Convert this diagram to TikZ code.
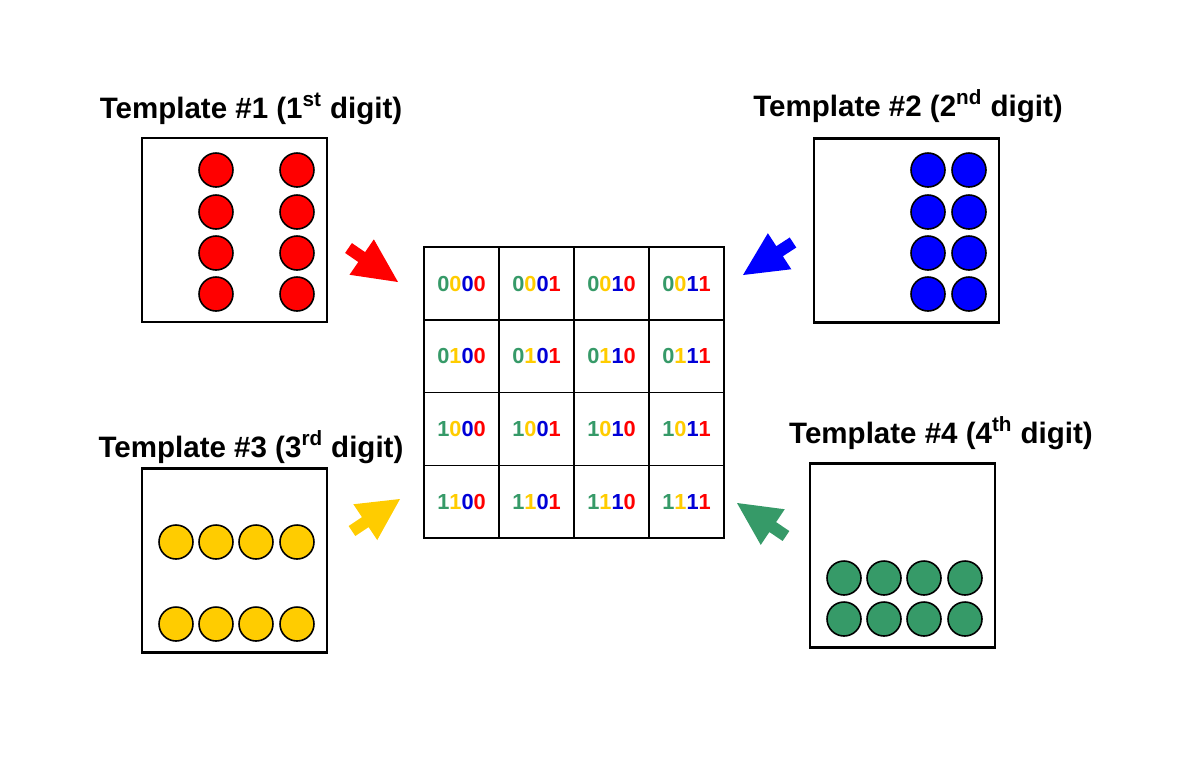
\documentclass[tikz,border=0pt]{standalone}
\usepackage{fontspec}
\setmainfont{Liberation Sans}
\usetikzlibrary{calc}
\definecolor{tred}{RGB}{255,0,0}
\definecolor{tblue}{RGB}{0,0,255}
\definecolor{dblue}{RGB}{0,0,215}
\definecolor{tyellow}{RGB}{255,204,0}
\definecolor{tgreen}{RGB}{54,154,104}
\tikzset{
	template/.style={draw, line width=1.2pt, minimum width=3.7cm, minimum height=3.68cm, inner sep=0pt},
	bead/.style={draw, circle, line width=0.9pt, inner sep=0pt, minimum size=0.68cm, fill=#1},
	tplname/.style={anchor=base, font=\fontsize{16.8}{20}\selectfont\bfseries},
	cell/.style={draw, line width=0.8pt, minimum width=1.5cm, minimum height=1.455cm, inner sep=0pt,
		font=\fontsize{12.4}{14}\selectfont\bfseries}
}
% block arrow: colour, tail, tip
\newcommand{\blockarrow}[3]{
	\coordinate (#2h) at ($(#2)!0.32cm!(#3)$);
	\fill[#1] ($(#2)!0.12cm!90:(#3)$) -- ($(#2h)!0.12cm!90:(#3)$) -- ($(#2h)!0.43cm!90:(#3)$)
		-- (#3) -- ($(#2h)!0.43cm!-90:(#3)$) -- ($(#2h)!0.12cm!-90:(#3)$)
		-- ($(#2)!0.12cm!-90:(#3)$) -- cycle;
}
\begin{document}
\begin{tikzpicture}[x=0.02cm, y=-0.02cm]
		\useasboundingbox (0,0) rectangle (1200,779);
		% templates
		\node[template] (t1) at (234.5,230) {};
		\node[template] (t2) at (906.5,230.5) {};
		\node[template] (t3) at (234.5,560.5) {};
		\node[template] (t4) at (902.5,555.5) {};
		\node[tplname] (n1) at (251,118) {Template \#1 (1\textsuperscript{st} digit)};
		\node[tplname] (n2) at (908,116) {Template \#2 (2\textsuperscript{nd} digit)};
		\node[tplname] (n3) at (251,457) {Template \#3 (3\textsuperscript{rd} digit)};
		\node[tplname] (n4) at (941,443) {Template \#4 (4\textsuperscript{th} digit)};
		% beads
		\foreach \y [count=\k] in {170,212,253,294} {
			\node[bead=tred] (r\k a) at (216,\y) {};
			\node[bead=tred] (r\k b) at (297,\y) {};
			\node[bead=tblue] (b\k a) at (928,\y) {};
			\node[bead=tblue] (b\k b) at (969,\y) {};
		}
		\foreach \x [count=\k] in {176,216,256,297} {
			\node[bead=tyellow] (y\k a) at (\x,542) {};
			\node[bead=tyellow] (y\k b) at (\x,624) {};
		}
		\foreach \x [count=\k] in {844,884,924,965} {
			\node[bead=tgreen] (g\k a) at (\x,578) {};
			\node[bead=tgreen] (g\k b) at (\x,619) {};
		}
		% code grid
		\foreach \a/\b [count=\i from 0] in {0/0,0/1,1/0,1/1}
		\foreach \c/\d [count=\j from 0] in {0/0,0/1,1/0,1/1}
		\node[cell] (c\i\j) at (461.5+75*\j,283.5+72.75*\i)
			{\color{tgreen}\a\color{tyellow}\b\color{dblue}\c\color{tred}\d};
		% arrows
		\coordinate (r0) at (348.5,248); \coordinate (r1) at (398,282);
		\coordinate (b0) at (793,242.5); \coordinate (b1) at (743,275);
		\coordinate (y0) at (352,531); \coordinate (y1) at (400,499);
		\coordinate (g0) at (786,536); \coordinate (g1) at (737,503);
		\blockarrow{tred}{r0}{r1}
		\blockarrow{tblue}{b0}{b1}
		\blockarrow{tyellow}{y0}{y1}
		\blockarrow{tgreen}{g0}{g1}
\end{tikzpicture}
\end{document}
